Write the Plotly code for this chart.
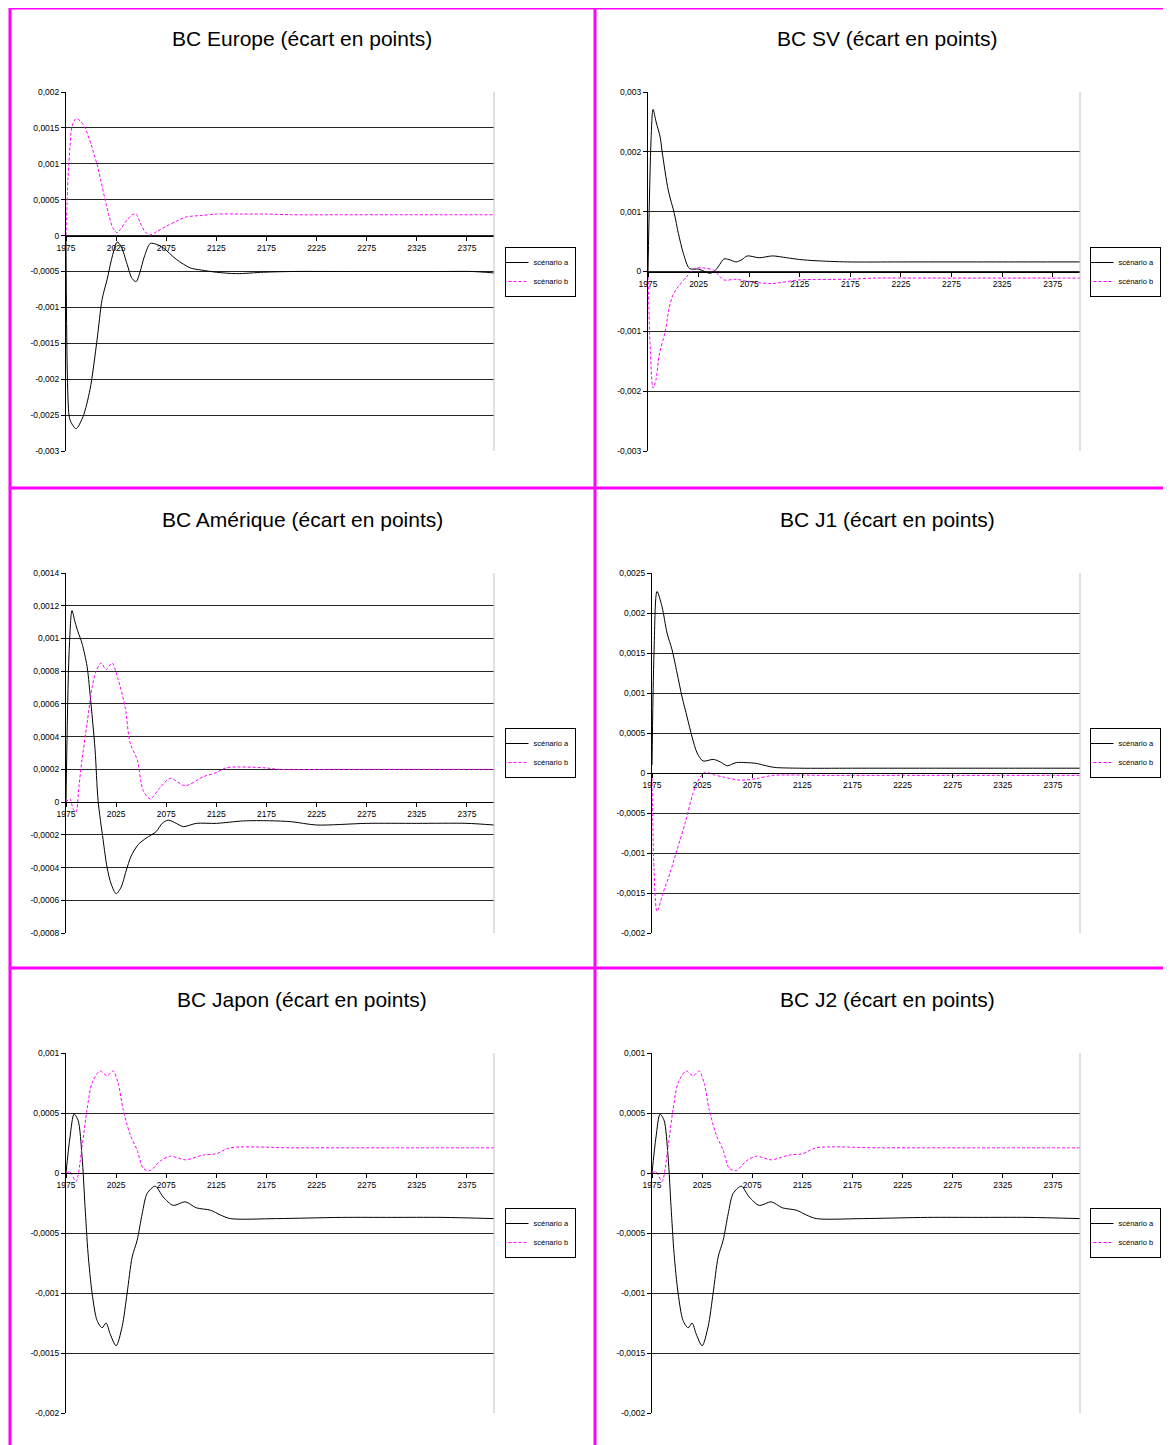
import plotly.graph_objects as go

# the page body adds an 8px margin, so the figure is drawn 8px smaller and
# all reference pixel positions are shifted by that offset
PAGE_W, PAGE_H = 1171, 1445
OFF = 8
W, H = PAGE_W - OFF, PAGE_H - OFF

# ---------------- data ----------------
tick_years = [1975, 2025, 2075, 2125, 2175, 2225, 2275, 2325, 2375]
series_names = ["scénario a", "scénario b"]

# BC Europe
eu_a_years = [1975, 1978, 1980, 1985, 1992, 1999, 2006, 2011, 2016, 2021, 2026, 2030, 2036, 2041, 2045, 2049, 2053, 2059, 2065, 2072, 2085, 2099, 2110, 2125, 2145, 2172, 2200, 2250, 2300, 2350, 2380, 2402]
eu_a = [0, -0.0025, -0.0026, -0.00269, -0.00252, -0.00214, -0.00145, -0.00089, -0.00061, -0.0003, -0.00009, -0.00015, -0.0004, -0.0006, -0.00064, -0.0005, -0.0003, -0.00011, -0.00012, -0.00017, -0.00033, -0.00045, -0.00048, -0.00051, -0.00053, -0.00051, -0.0005, -0.0005, -0.0005, -0.0005, -0.0005, -0.00052]
eu_b_years = [1975, 1977, 1979, 1981, 1985, 1989, 1994, 2000, 2006, 2010, 2014, 2018, 2022, 2026, 2030, 2036, 2041, 2045, 2049, 2054, 2059, 2066, 2075, 2085, 2095, 2110, 2125, 2150, 2175, 2200, 2250, 2300, 2350, 2402]
eu_b = [0, 0.0008, 0.00124, 0.00152, 0.00163, 0.0016, 0.0015, 0.00127, 0.00099, 0.00075, 0.0005, 0.00027, 0.0001, 0.00004, 0.0001, 0.00022, 0.00029, 0.0003, 0.00018, 0.00005, 0.00001, 0.00006, 0.00013, 0.0002, 0.00026, 0.00028, 0.0003, 0.0003, 0.0003, 0.00029, 0.00029, 0.00029, 0.00029, 0.00029]

# BC SV
sv_a_years = [1975, 1978, 1980, 1983, 1987, 1989, 1995, 2001, 2005, 2010, 2016, 2025, 2031, 2036, 2041, 2046, 2050, 2055, 2062, 2068, 2073, 2085, 2098, 2112, 2125, 2141, 2172, 2225, 2300, 2350, 2402]
sv_a = [0, 0.0022, 0.00271, 0.0025, 0.00225, 0.002, 0.00136, 0.00097, 0.00064, 0.0003, 0.00005, 0.00004, 0.0, -0.00003, 0.00001, 0.00012, 0.00021, 0.0002, 0.00016, 0.0002, 0.00026, 0.00023, 0.00026, 0.00023, 0.0002, 0.00018, 0.00016, 0.00016, 0.00016, 0.00016, 0.00016]
sv_b_years = [1975, 1977, 1980, 1983, 1986, 1992, 1996, 2000, 2005, 2013, 2021, 2029, 2040, 2050, 2062, 2075, 2098, 2125, 2171, 2200, 2250, 2300, 2350, 2402]
sv_b = [0, -0.0012, -0.00195, -0.0018, -0.0014, -0.001, -0.0006, -0.00038, -0.00025, -0.00009, 0.00005, 0.00006, 0.00002, -0.00014, -0.00013, -0.00017, -0.0002, -0.00014, -0.00013, -0.00011, -0.00011, -0.00011, -0.00011, -0.00011]

# BC Amérique
am_a_years = [1975, 1978, 1981, 1984, 1987, 1991, 1996, 1999, 2004, 2007, 2012, 2016, 2020, 2025, 2030, 2035, 2040, 2047, 2055, 2065, 2071, 2077, 2085, 2092, 2105, 2125, 2152, 2178, 2200, 2225, 2275, 2325, 2375, 2402]
am_a = [0, 0.0009, 0.00117, 0.0011, 0.00104, 0.00097, 0.00083, 0.00066, 0.00032, 0.00001, -0.00023, -0.0004, -0.0005, -0.00056, -0.00052, -0.00042, -0.00033, -0.00026, -0.00022, -0.00018, -0.00013, -0.00011, -0.00013, -0.00015, -0.00013, -0.00013, -0.000115, -0.000114, -0.00012, -0.00014, -0.00013, -0.00013, -0.00013, -0.00014]
am_b_years = [1975, 1979, 1982, 1985, 1988, 1991, 1996, 2001, 2005, 2010, 2015, 2021, 2027, 2034, 2039, 2046, 2052, 2059, 2069, 2079, 2094, 2112, 2125, 2135, 2172, 2188, 2250, 2300, 2350, 2402]
am_b = [0, 0.00002, -0.00004, -0.00006, 0.0001, 0.00026, 0.00048, 0.0007, 0.0008, 0.00085, 0.00081, 0.00085, 0.00075, 0.00058, 0.00036, 0.00026, 0.00007, 0.00002, 0.00009, 0.000145, 0.0001, 0.000155, 0.00018, 0.00021, 0.00021, 0.0002, 0.0002, 0.0002, 0.0002, 0.0002]

# BC J1
j1_a_years = [1975, 1977, 1980, 1985, 1990, 1995, 2000, 2005, 2010, 2015, 2020, 2026, 2036, 2043, 2050, 2059, 2069, 2079, 2089, 2097, 2122, 2175, 2250, 2325, 2402]
j1_a = [0.0001, 0.0015, 0.00227, 0.00208, 0.00175, 0.00154, 0.00125, 0.00095, 0.0007, 0.00045, 0.00025, 0.00015, 0.00017, 0.00014, 0.00009, 0.00013, 0.00013, 0.00012, 0.00009, 0.00007, 0.00006, 0.00006, 0.00006, 0.00006, 0.00006]
j1_b_years = [1975, 1977, 1980, 1986, 1993, 2000, 2008, 2016, 2023, 2028, 2036, 2046, 2063, 2079, 2096, 2150, 2250, 2325, 2402]
j1_b = [0, -0.0012, -0.00173, -0.0015, -0.00125, -0.00096, -0.00063, -0.00025, -0.00005, 0.00001, -0.00002, -0.00005, -0.00009, -0.00007, -0.00003, -0.00003, -0.00003, -0.00003, -0.00003]

# BC Japon
jp_a_years = [1975, 1979, 1983, 1987, 1991, 1994, 1997, 2001, 2006, 2011, 2015, 2019, 2025, 2031, 2036, 2041, 2046, 2051, 2056, 2064, 2072, 2082, 2094, 2105, 2119, 2129, 2139, 2185, 2250, 2300, 2350, 2402]
jp_a = [0, 0.0003, 0.00049, 0.00044, 0.00014, -0.00028, -0.00067, -0.001, -0.00123, -0.00129, -0.00125, -0.00134, -0.00144, -0.00128, -0.001, -0.0007, -0.00056, -0.00034, -0.00017, -0.00011, -0.0002, -0.00027, -0.00024, -0.00029, -0.00031, -0.00035, -0.00038, -0.00038, -0.00037, -0.00037, -0.00037, -0.00038]
jp_b_years = [1975, 1979, 1985, 1991, 1996, 2001, 2009, 2016, 2022, 2027, 2032, 2039, 2046, 2052, 2059, 2069, 2079, 2094, 2112, 2125, 2139, 2200, 2300, 2402]
jp_b = [0, 0.00001, -0.00007, 0.00022, 0.00053, 0.00075, 0.00085, 0.00081, 0.00085, 0.00075, 0.00053, 0.00032, 0.00019, 0.00004, 0.00002, 0.0001, 0.00014, 0.00011, 0.00015, 0.00016, 0.00021, 0.00021, 0.00021, 0.00021]

# BC J2 (identical to Japon in the reference)
j2_a_years = list(jp_a_years)
j2_a = list(jp_a)
j2_b_years = list(jp_b_years)
j2_b = list(jp_b)

titles = ["BC Europe (écart en points)", "BC SV (écart en points)",
          "BC Amérique (écart en points)", "BC J1 (écart en points)",
          "BC Japon (écart en points)", "BC J2 (écart en points)"]
y_ticks = [
    [-0.003, -0.0025, -0.002, -0.0015, -0.001, -0.0005, 0, 0.0005, 0.001, 0.0015, 0.002],
    [-0.003, -0.002, -0.001, 0, 0.001, 0.002, 0.003],
    [-0.0008, -0.0006, -0.0004, -0.0002, 0, 0.0002, 0.0004, 0.0006, 0.0008, 0.001, 0.0012, 0.0014],
    [-0.002, -0.0015, -0.001, -0.0005, 0, 0.0005, 0.001, 0.0015, 0.002, 0.0025],
    [-0.002, -0.0015, -0.001, -0.0005, 0, 0.0005, 0.001],
    [-0.002, -0.0015, -0.001, -0.0005, 0, 0.0005, 0.001],
]
data = [
    (eu_a_years, eu_a, eu_b_years, eu_b),
    (sv_a_years, sv_a, sv_b_years, sv_b),
    (am_a_years, am_a, am_b_years, am_b),
    (j1_a_years, j1_a, j1_b_years, j1_b),
    (jp_a_years, jp_a, jp_b_years, jp_b),
    (j2_a_years, j2_a, j2_b_years, j2_b),
]

# ---------------- layout geometry (reference page pixels) ----------------
plot_boxes = [  # x0, x1, ytop, ybottom
    (66, 494, 92, 451), (648, 1080, 92, 451),
    (66, 494, 573, 933), (652, 1080, 573, 933),
    (66, 494, 1053, 1413), (652, 1080, 1053, 1413),
]
title_pos = [(302, 38), (887, 38), (302, 519), (887, 519), (302, 1000), (887, 1000)]
legend_center = [(540, 272), (1125, 272), (540, 753), (1125, 753), (540, 1233), (1125, 1233)]

FONT = "Liberation Sans, Arial, sans-serif"
MAG = "#FF00FF"
TICK_SIZE = 8.5


def px(x):
    return (x - OFF) / W


def py(y):
    return 1 - (y - OFF) / H


def fmt(v):
    if v == 0:
        return "0"
    return f"{v:g}".replace(".", ",")


fig = go.Figure()
layout = dict(
    width=W, height=H, margin=dict(l=0, r=0, t=0, b=0, pad=0, autoexpand=False),
    paper_bgcolor="white", plot_bgcolor="white",
    font=dict(family=FONT, color="black", size=8),
    showlegend=True,
)
annotations = []
shapes = []

for i in range(6):
    n = i + 1
    sfx = "" if n == 1 else str(n)
    ya, a, yb, b = data[i]
    lg = "legend" if n == 1 else f"legend{n}"
    fig.add_trace(go.Scatter(x=ya, y=a, mode="lines", name=series_names[0],
                             line=dict(color="black", width=1, shape="spline", smoothing=0.8),
                             xaxis=f"x{sfx}", yaxis=f"y{sfx}", legend=lg))
    fig.add_trace(go.Scatter(x=yb, y=b, mode="lines", name=series_names[1],
                             line=dict(color=MAG, width=1, dash="3px,2px", shape="spline", smoothing=0.8),
                             xaxis=f"x{sfx}", yaxis=f"y{sfx}", legend=lg))
    x0, x1, yt, yb_ = plot_boxes[i]
    ydom = [py(yb_), py(yt)]
    ticks = y_ticks[i]
    ymin, ymax = ticks[0], ticks[-1]
    zero_pos = ydom[0] + (0 - ymin) / (ymax - ymin) * (ydom[1] - ydom[0])
    layout[f"xaxis{sfx}"] = dict(
        domain=[px(x0), px(x1)], range=[1975, 2402], anchor="free", position=zero_pos,
        tickvals=tick_years, ticktext=[str(t) for t in tick_years],
        showline=True, linecolor="black", linewidth=1, ticks="outside", ticklen=4,
        tickcolor="black", showgrid=False, zeroline=False,
        tickfont=dict(size=TICK_SIZE, family=FONT),
    )
    layout[f"yaxis{sfx}"] = dict(
        domain=ydom, range=[ymin, ymax], anchor=f"x{sfx}",
        tickvals=ticks, ticktext=[fmt(t) for t in ticks],
        showgrid=True, gridcolor="#262626", gridwidth=1,
        showline=True, linecolor="black", linewidth=1, ticks="outside", ticklen=4,
        tickcolor="black", zeroline=False, tickfont=dict(size=TICK_SIZE, family=FONT),
    )
    lx, ly = legend_center[i]
    layout[lg] = dict(
        x=px(lx), y=py(ly), xanchor="center", yanchor="middle",
        bordercolor="black", borderwidth=1, bgcolor="white",
        font=dict(size=7.5, family=FONT), itemwidth=30, tracegroupgap=0,
        indentation=-12,
    )
    tx, ty = title_pos[i]
    annotations.append(dict(text=titles[i], x=px(tx), y=py(ty), xref="paper", yref="paper",
                            xanchor="center", yanchor="middle", showarrow=False,
                            font=dict(size=21, family=FONT, color="black")))
    shapes.append(dict(type="line", xref=f"x{sfx} domain", yref=f"y{sfx} domain",
                       x0=1, x1=1, y0=0, y1=1, line=dict(color="#c0c0c0", width=1)))

# magenta frame lines
for yy in [8, 488, 968]:
    shapes.append(dict(type="line", xref="paper", yref="paper", x0=px(9), x1=1,
                       y0=py(yy), y1=py(yy), line=dict(color=MAG, width=3)))
for xx in [10, 595]:
    shapes.append(dict(type="line", xref="paper", yref="paper", x0=px(xx), x1=px(xx),
                       y0=0, y1=py(7), line=dict(color=MAG, width=3)))

layout["annotations"] = annotations
layout["shapes"] = shapes
fig.update_layout(**layout)
fig.write_html("out.html")
